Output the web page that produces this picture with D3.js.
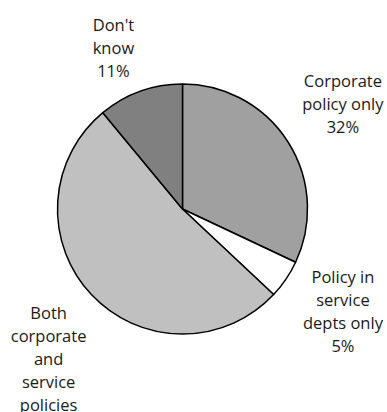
<!DOCTYPE html>
<html>
<head>
<meta charset="utf-8">
<script src="https://cdn.jsdelivr.net/npm/d3@7"></script>
<style>
  html, body { margin: 0; padding: 0; background: #ffffff; }
  svg { display: block; }
</style>
</head>
<body>
<div id="chart"></div>
<script>
// Survey answers: where policies are held
const categories = [
  ["Corporate", "policy only"],
  ["Policy in", "service", "depts only"],
  ["Both", "corporate", "and", "service", "policies"],
  ["Don't", "know"]
];
const values = [32, 5, 52, 11];
const sliceColors = ["#a0a0a0", "#ffffff", "#c0c0c0", "#808080"];

const width = 387, height = 412;
const cx = 182.5, cy = 209, radius = 125;
const labelRadius = 190;
const lineHeight = 23;
const fontSize = 16.5;
// small per-label shifts so each text block sits clear of the pie
const labelNudge = [[0, -2.5], [3.3, -3.6], [4.6, 31.2], [-4.7, 17.5]];

const svg = d3.select("#chart").append("svg")
  .attr("width", width)
  .attr("height", height);

const g = svg.append("g").attr("transform", `translate(${cx},${cy})`);

const pie = d3.pie().sort(null).value(d => d);
const arcs = pie(values);

const arc = d3.arc().innerRadius(0).outerRadius(radius);
const labelArc = d3.arc().innerRadius(labelRadius).outerRadius(labelRadius);

g.selectAll("path.slice")
  .data(arcs)
  .join("path")
  .attr("class", "slice")
  .attr("d", arc)
  .attr("fill", (d, i) => sliceColors[i])
  .attr("stroke", "#000")
  .attr("stroke-width", 1.5)
  .attr("stroke-linejoin", "round");

const labels = g.selectAll("text.label")
  .data(arcs)
  .join("text")
  .attr("class", "label")
  .attr("text-anchor", "middle")
  .attr("font-family", "'Open Sans', 'Noto Sans', sans-serif")
  .attr("font-size", fontSize)
  .attr("fill", "#1a1a1a");

labels.each(function(d, i) {
  const lines = categories[i].concat([d.data + "%"]);
  const [px, py] = labelArc.centroid(d);
  const x = px + labelNudge[i][0];
  const midY = py + labelNudge[i][1];
  const firstBaseline = midY - (lines.length - 1) * lineHeight / 2 + fontSize * 0.35;
  d3.select(this).selectAll("tspan")
    .data(lines)
    .join("tspan")
    .attr("x", x)
    .attr("y", (t, k) => firstBaseline + k * lineHeight)
    .text(t => t);
});
</script>
</body>
</html>
